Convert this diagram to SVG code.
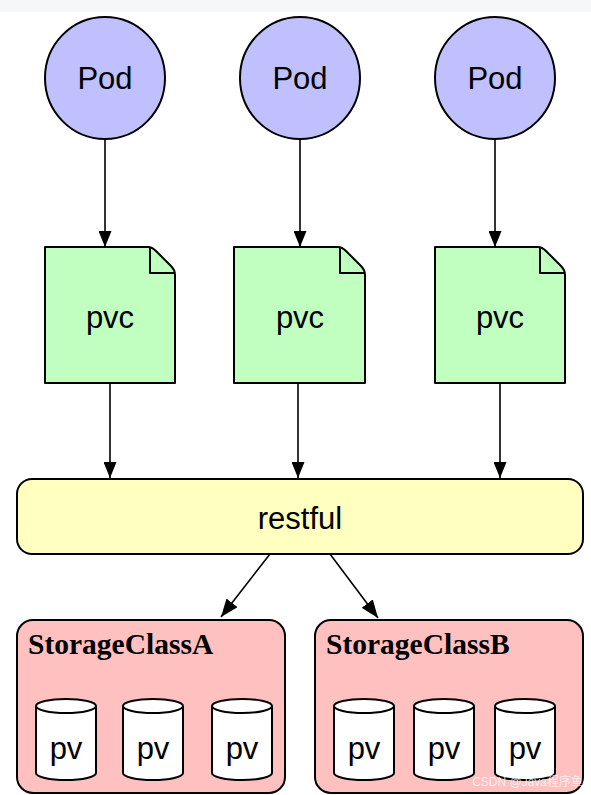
<svg xmlns="http://www.w3.org/2000/svg" width="591" height="795" viewBox="0 0 591 795">
<style>
.t{font-family:"Liberation Sans",Arial,sans-serif;font-size:31px;fill:#000;text-anchor:middle}
.ttl{font-family:"Liberation Serif","Times New Roman",serif;font-size:29.5px;font-weight:bold;fill:#000}
.pod{fill:#c0c0ff;stroke:#000;stroke-width:2}
.pvc{fill:#c0ffc0;stroke:#000;stroke-width:2;stroke-linejoin:round}
.cyl{fill:#fff;stroke:#000;stroke-width:2}
.e{stroke:#000;stroke-width:1.6;fill:none}
</style>
<defs>
<marker id="ah2" viewBox="0 0 16 13" refX="16" refY="6.5" markerWidth="16" markerHeight="13" markerUnits="userSpaceOnUse" orient="auto">
<path d="M0,0 L16,6.5 L0,13 Z" fill="#000"/>
</marker>
<marker id="ah3" viewBox="0 0 18 14" refX="18" refY="7" markerWidth="18" markerHeight="14" markerUnits="userSpaceOnUse" orient="auto">
<path d="M0,0 L18,7 L0,14 Z" fill="#000"/>
</marker>
</defs>
<rect x="0" y="0" width="591" height="795" fill="#fff"/>
<rect x="0" y="0" width="591" height="12" fill="#f6f7f9"/>

<g id="connectors">
<line class="e" x1="105" y1="139" x2="105" y2="247" marker-end="url(#ah2)"/>
<line class="e" x1="300" y1="139" x2="300" y2="247" marker-end="url(#ah2)"/>
<line class="e" x1="495" y1="139" x2="495" y2="247" marker-end="url(#ah2)"/>
<line class="e" x1="110" y1="383" x2="110" y2="478" marker-end="url(#ah2)"/>
<line class="e" x1="298" y1="383" x2="298" y2="478" marker-end="url(#ah2)"/>
<line class="e" x1="500" y1="383" x2="500" y2="478" marker-end="url(#ah2)"/>
<line class="e" x1="270" y1="554" x2="221" y2="617" marker-end="url(#ah3)"/>
<line class="e" x1="330" y1="554" x2="378" y2="618" marker-end="url(#ah3)"/>
</g>

<g id="pod1"><ellipse class="pod" cx="105" cy="78" rx="60" ry="61"/><text class="t" x="105" y="89">Pod</text></g>
<g id="pod2"><ellipse class="pod" cx="300" cy="78" rx="60" ry="61"/><text class="t" x="300" y="89">Pod</text></g>
<g id="pod3"><ellipse class="pod" cx="495" cy="78" rx="60" ry="61"/><text class="t" x="495" y="89">Pod</text></g>

<g id="pvc1"><path class="pvc" d="M45,247 H148 Q152,247 156,251 L171,266 Q175,270 175,275 V383 H45 Z"/><path class="pvc" d="M150,248 V273 H174"/><text class="t" x="110" y="328">pvc</text></g>
<g id="pvc2"><path class="pvc" d="M234,247 H338 Q342,247 346,251 L361,266 Q365,270 365,275 V383 H234 Z"/><path class="pvc" d="M340,248 V273 H364"/><text class="t" x="300" y="328">pvc</text></g>
<g id="pvc3"><path class="pvc" d="M435,247 H538 Q542,247 546,251 L561,266 Q565,270 565,275 V383 H435 Z"/><path class="pvc" d="M540,248 V273 H564"/><text class="t" x="500" y="328">pvc</text></g>

<g id="restful"><rect x="17" y="479" width="566" height="75" rx="15" fill="#ffffc0" stroke="#000" stroke-width="2"/><text class="t" x="300" y="529">restful</text></g>

<g id="storageClassA">
<rect x="17" y="620" width="268" height="173" rx="16" fill="#ffc0c0" stroke="#000" stroke-width="2"/>
<text class="ttl" x="28" y="654">StorageClassA</text>
</g>
<g id="storageClassB">
<rect x="315" y="620" width="268" height="173" rx="16" fill="#ffc0c0" stroke="#000" stroke-width="2"/>
<text class="ttl" x="326" y="654">StorageClassB</text>
</g>

<g id="pvA1"><path class="cyl" d="M36,706 V773 A30,7 0 0 0 96,773 V706 A30,7 0 0 0 36,706 Z"/><path class="cyl" d="M36,706 A30,7 0 0 0 96,706"/><text class="t" x="66" y="759">pv</text></g>
<g id="pvA2"><path class="cyl" d="M123,706 V773 A30,7 0 0 0 183,773 V706 A30,7 0 0 0 123,706 Z"/><path class="cyl" d="M123,706 A30,7 0 0 0 183,706"/><text class="t" x="153" y="759">pv</text></g>
<g id="pvA3"><path class="cyl" d="M212,706 V773 A30,7 0 0 0 272,773 V706 A30,7 0 0 0 212,706 Z"/><path class="cyl" d="M212,706 A30,7 0 0 0 272,706"/><text class="t" x="242" y="759">pv</text></g>
<g id="pvB1"><path class="cyl" d="M334,706 V773 A30,7 0 0 0 394,773 V706 A30,7 0 0 0 334,706 Z"/><path class="cyl" d="M334,706 A30,7 0 0 0 394,706"/><text class="t" x="364" y="759">pv</text></g>
<g id="pvB2"><path class="cyl" d="M414,706 V773 A30,7 0 0 0 474,773 V706 A30,7 0 0 0 414,706 Z"/><path class="cyl" d="M414,706 A30,7 0 0 0 474,706"/><text class="t" x="444" y="759">pv</text></g>
<g id="pvB3"><path class="cyl" d="M495,706 V773 A30,7 0 0 0 555,773 V706 A30,7 0 0 0 495,706 Z"/><path class="cyl" d="M495,706 A30,7 0 0 0 555,706"/><text class="t" x="525" y="759">pv</text></g>

<text x="583" y="786" font-family="'Liberation Sans','Noto Sans CJK SC',sans-serif" font-size="12" fill="#ffffff" fill-opacity="0.75" text-anchor="end">CSDN @Java程序鱼</text>
</svg>
